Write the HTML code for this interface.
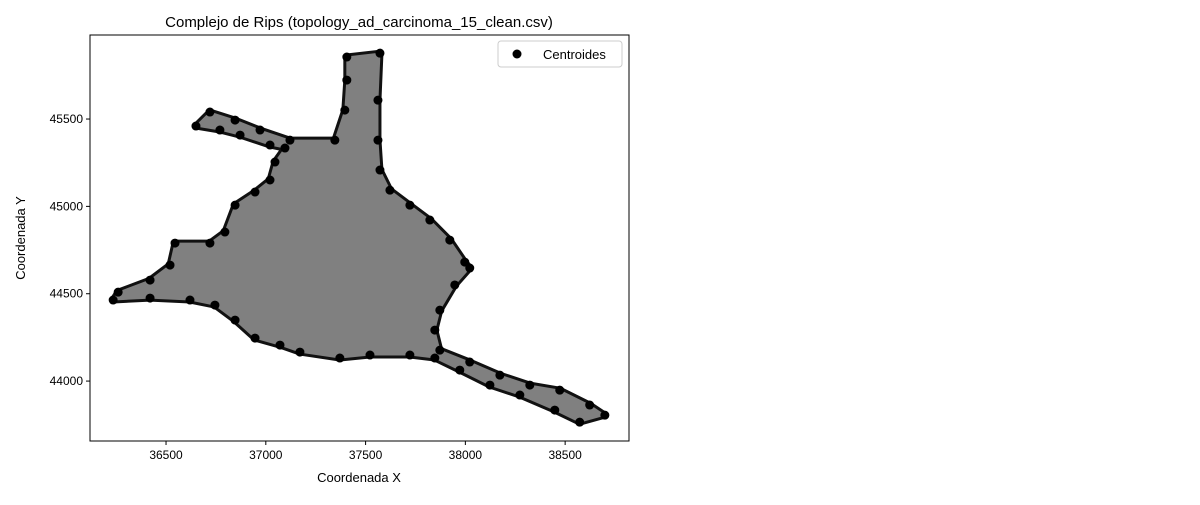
<!DOCTYPE html>
<html><head><meta charset="utf-8"><style>
body{margin:0;background:#fff;}
svg text{font-family:"Liberation Sans",sans-serif;fill:#000;}
</style></head><body>
<svg id="chart" width="1200" height="500">
<text x="359" y="27" font-size="15" text-anchor="middle">Complejo de Rips (topology_ad_carcinoma_15_clean.csv)</text>
<g id="plot"></g>
<rect x="90" y="35" width="539" height="406" fill="none" stroke="#000" stroke-width="1"/>
<text x="359" y="482" font-size="13" text-anchor="middle">Coordenada X</text>
<text x="25" y="238" font-size="13" text-anchor="middle" transform="rotate(-90 25 238)">Coordenada Y</text>
<g>
<rect x="498" y="41" width="124" height="26" fill="#fff" stroke="#ccc" rx="3"/>
<circle cx="517" cy="54" r="4.5" fill="#000"/>
<text x="543" y="59" font-size="13">Centroides</text>
</g>
</svg>
<script>
const xTicks=[36500,37000,37500,38000,38500];
const yTicks=[44000,44500,45000,45500];
const xs=[37406,37572,37562,37562,37572,37622,37722,37822,37922,37997,38022,37947,37872,37847,37872,38022,38173,38323,38473,38623,38699,38573,38448,38273,38123,37972,37847,37722,37522,37371,37171,37071,36946,36846,36745,36620,36420,36235,36260,36420,36520,36545,36720,36795,36846,36946,37021,37046,37096,37021,36871,36770,36650,36720,36846,36971,37121,37346,37396,37406];
const ys=[45855,45877,45608,45379,45208,45093,45007,44922,44807,44681,44647,44550,44406,44292,44177,44109,44034,43977,43948,43863,43805,43765,43834,43920,43977,44063,44132,44149,44149,44132,44166,44206,44246,44349,44435,44464,44475,44464,44509,44578,44664,44790,44790,44853,45007,45082,45151,45254,45334,45351,45408,45437,45460,45540,45494,45437,45379,45379,45551,45723];
const X0=36119,X1=38820,Y0=43657,Y1=45981,L=90,R=629,T=35,B=441;
const sx=v=>L+(v-X0)/(X1-X0)*(R-L);
const sy=v=>B-(v-Y0)/(Y1-Y0)*(B-T);
const NS='http://www.w3.org/2000/svg';
const svg=document.getElementById('chart');
const g=document.getElementById('plot');
function mk(t,a,p){const e=document.createElementNS(NS,t);for(const k in a)e.setAttribute(k,a[k]);(p||g).appendChild(e);return e;}
const pts=xs.map((x,i)=>sx(x)+','+sy(ys[i])).join(' ');
const outline=mk('polygon',{points:pts,fill:'none',stroke:'#111','stroke-width':7,'stroke-linejoin':'round'});


const poly=mk('polygon',{points:pts,fill:'#808080',stroke:'#808080','stroke-width':1,'stroke-linejoin':'round'});


xs.forEach((x,i)=>{
 const c=mk('circle',{cx:sx(x),cy:sy(ys[i]),r:4.5,fill:'#000'});
 
 
});
xTicks.forEach(v=>{
 const x=sx(v);
 const l=mk('line',{x1:x,x2:x,y1:B,y2:B+4,stroke:'#000'},svg);
 
 
 const t=mk('text',{x:x,y:B+18,'font-size':12,'text-anchor':'middle'},svg);
 t.textContent=v;
 
 
});
yTicks.forEach(v=>{
 const y=sy(v);
 const l=mk('line',{x1:L-4,x2:L,y1:y,y2:y,stroke:'#000'},svg);
 
 
 const t=mk('text',{x:L-7,y:y+4,'font-size':12,'text-anchor':'end'},svg);
 t.textContent=v;
 
 
});
</script>
</body></html>
